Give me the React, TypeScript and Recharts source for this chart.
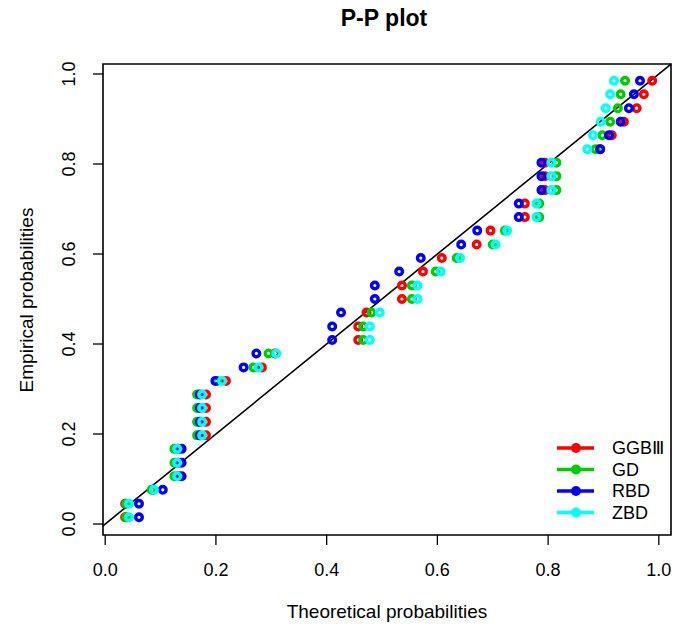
import React from "react";
import {
  ScatterChart,
  Scatter,
  XAxis,
  YAxis,
  ReferenceLine,
  ReferenceArea,
  Legend,
} from "recharts";

// Empirical probabilities (shared y values, 33 sorted observations)
const empirical = [
  0.015, 0.045, 0.076, 0.106, 0.136, 0.167, 0.197, 0.227, 0.258, 0.288, 0.318,
  0.348, 0.379, 0.409, 0.439, 0.47, 0.5, 0.53, 0.561, 0.591, 0.621, 0.652,
  0.682, 0.712, 0.742, 0.773, 0.803, 0.833, 0.864, 0.894, 0.924, 0.955, 0.985,
];

// Theoretical probabilities per fitted model
const ggb = [
  0.036, 0.036, 0.087, 0.132, 0.132, 0.132, 0.182, 0.182, 0.182, 0.182, 0.218,
  0.283, 0.307, 0.457, 0.457, 0.472, 0.536, 0.536, 0.574, 0.608, 0.671, 0.696,
  0.758, 0.758, 0.794, 0.794, 0.794, 0.894, 0.915, 0.937, 0.96, 0.973, 0.988,
];
const gd = [
  0.038, 0.038, 0.084, 0.125, 0.125, 0.125, 0.166, 0.166, 0.166, 0.166, 0.202,
  0.268, 0.295, 0.466, 0.466, 0.481, 0.554, 0.554, 0.597, 0.635, 0.7, 0.722,
  0.784, 0.784, 0.815, 0.815, 0.815, 0.886, 0.898, 0.912, 0.926, 0.931, 0.939,
];
const rbd = [
  0.061, 0.061, 0.104, 0.138, 0.138, 0.138, 0.171, 0.171, 0.171, 0.171, 0.199,
  0.25, 0.273, 0.41, 0.41, 0.426, 0.487, 0.487, 0.531, 0.57, 0.643, 0.672,
  0.747, 0.747, 0.788, 0.788, 0.788, 0.894, 0.91, 0.931, 0.946, 0.955, 0.966,
];
const zbd = [
  0.043, 0.043, 0.088, 0.13, 0.13, 0.13, 0.175, 0.175, 0.175, 0.175, 0.211,
  0.277, 0.309, 0.478, 0.478, 0.496, 0.564, 0.564, 0.606, 0.641, 0.705, 0.726,
  0.779, 0.779, 0.806, 0.806, 0.806, 0.871, 0.881, 0.895, 0.904, 0.912, 0.919,
];

const seriesNames = ["GGB\u2162", "GD", "RBD", "ZBD"];
const seriesColors = ["#FF0000", "#00CD00", "#0000FF", "#00FFFF"];
const seriesValues = [ggb, gd, rbd, zbd];

const axisTicks = [0, 0.2, 0.4, 0.6, 0.8, 1.0];
const xDomain: [number, number] = [-0.004, 1.022];
const yDomain: [number, number] = [-0.0244, 1.0222];

const FONT = "'Liberation Sans', Arial, Helvetica, sans-serif";

const series = seriesNames.map((name, i) => ({
  name,
  color: seriesColors[i],
  data: seriesValues[i].map((x, j) => ({ x, y: empirical[j] })),
}));

const makeShape = (color: string) => (props: any) => (
  <circle
    cx={props.cx}
    cy={props.cy}
    r={3.3}
    fill="none"
    stroke={color}
    strokeWidth={3.4}
  />
);

const XTick = (props: any) => {
  const { x, y, payload } = props;
  return (
    <text
      x={x}
      y={y}
      dy="0.71em"
      textAnchor="middle"
      fontSize={18}
      fontFamily={FONT}
      fill="#000"
    >
      {Number(payload.value).toFixed(1)}
    </text>
  );
};

const YTick = (props: any) => {
  const { x, y, payload } = props;
  return (
    <text
      x={x}
      y={y}
      transform={`rotate(-90, ${x}, ${y})`}
      textAnchor="middle"
      fontSize={18}
      fontFamily={FONT}
      fill="#000"
    >
      {Number(payload.value).toFixed(1)}
    </text>
  );
};

const LegendContent = () => (
  <svg width={125} height={92} style={{ display: "block" }}>
    {series.map((s, i) => {
      const cy = 12 + i * 21.5;
      return (
        <g key={s.name}>
          <line x1={7} x2={44} y1={cy} y2={cy} stroke={s.color} strokeWidth={3.5} />
          <circle cx={26} cy={cy} r={5} fill={s.color} />
          <text
            x={62}
            y={cy}
            dy="0.36em"
            fontSize={18}
            fontFamily={FONT}
            fill="#000"
          >
            {s.name}
          </text>
        </g>
      );
    })}
  </svg>
);

export default function App() {
  return (
    <div style={{ position: "absolute", left: 0, top: 0, width: 675, height: 627, background: "#fff" }}>
      <ScatterChart
        width={675}
        height={627}
        margin={{ top: 64, right: 4, bottom: 0, left: 0 }}
      >
        <XAxis
          type="number"
          dataKey="x"
          domain={xDomain}
          allowDataOverflow
          ticks={axisTicks}
          interval={0}
          axisLine={false}
          tickLine={{ stroke: "#000", strokeWidth: 1.3 }}
          tickSize={10}
          tickMargin={18}
          tick={<XTick />}
          height={92}
        />
        <YAxis
          type="number"
          dataKey="y"
          domain={yDomain}
          allowDataOverflow
          ticks={axisTicks}
          interval={0}
          axisLine={false}
          tickLine={{ stroke: "#000", strokeWidth: 1.3 }}
          tickSize={10}
          tickMargin={18}
          tick={<YTick />}
          width={103}
        />
        <ReferenceArea
          x1={xDomain[0]}
          x2={xDomain[1]}
          y1={yDomain[0]}
          y2={yDomain[1]}
          fill="none"
          stroke="#000"
          strokeWidth={1.6}
          ifOverflow="visible"
        />
        <ReferenceLine
          segment={[
            { x: xDomain[0], y: xDomain[0] },
            { x: xDomain[1], y: xDomain[1] },
          ]}
          stroke="#000"
          strokeWidth={1.6}
          ifOverflow="visible"
        />
        {series.map((s) => (
          <Scatter
            key={s.name}
            name={s.name}
            data={s.data}
            fill={s.color}
            shape={makeShape(s.color)}
            isAnimationActive={false}
          />
        ))}
        <Legend
          layout="vertical"
          align="center"
          verticalAlign="middle"
          content={<LegendContent />}
          wrapperStyle={{ position: "absolute", left: 550, top: 436, width: 125, height: 92 }}
        />
      </ScatterChart>
      <svg
        width={675}
        height={627}
        style={{ position: "absolute", left: 0, top: 0, pointerEvents: "none" }}
      >
        <text
          x={384}
          y={26}
          textAnchor="middle"
          fontSize={23}
          fontWeight="bold"
          fontFamily={FONT}
          fill="#000"
        >
          P-P plot
        </text>
        <text
          x={387}
          y={618}
          textAnchor="middle"
          fontSize={19}
          fontFamily={FONT}
          fill="#000"
        >
          Theoretical probabilities
        </text>
        <text
          x={33}
          y={300}
          transform="rotate(-90, 33, 300)"
          textAnchor="middle"
          fontSize={19}
          fontFamily={FONT}
          fill="#000"
        >
          Empirical probabilities
        </text>
      </svg>
    </div>
  );
}
